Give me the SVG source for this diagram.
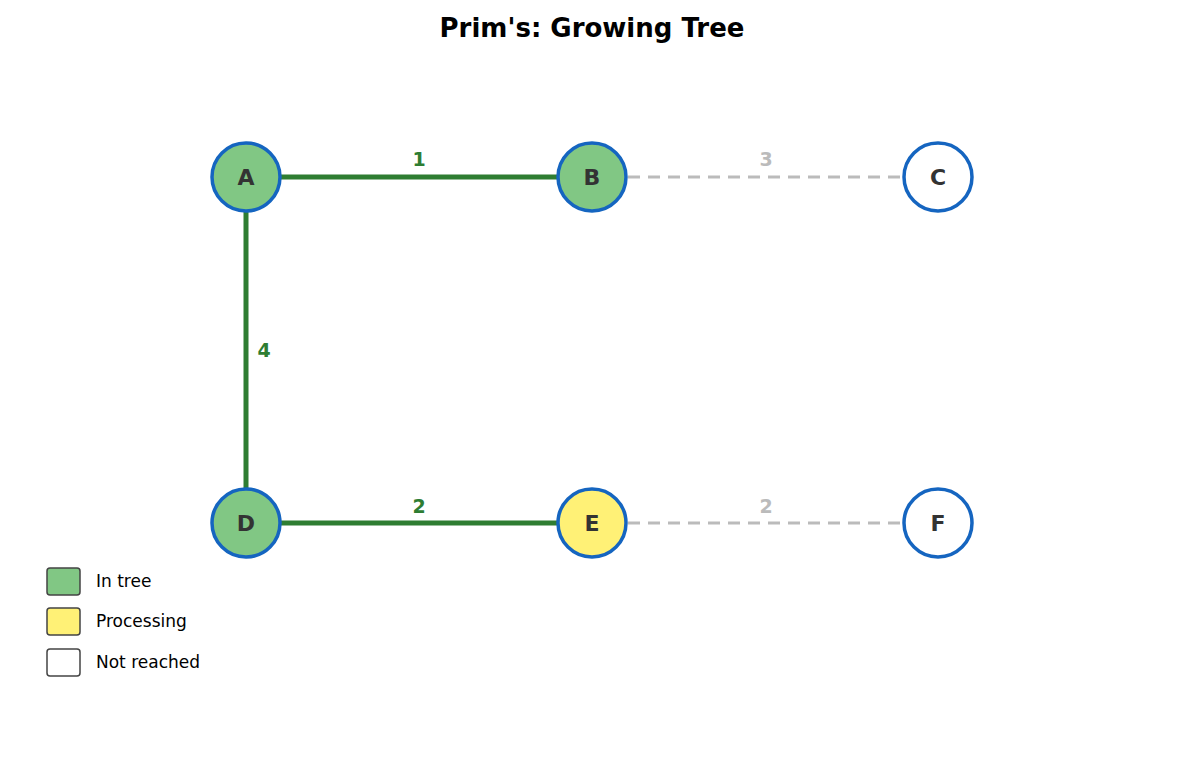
<svg xmlns="http://www.w3.org/2000/svg" width="1185" height="770" viewBox="0 0 1185 770">
<style>
text{font-family:"DejaVu Sans",sans-serif}
.n{stroke:#1565c0;stroke-width:3.5}
.nl{font-size:22px;font-weight:bold;fill:#333;text-anchor:middle;dominant-baseline:central}
.t{stroke:#2e7d32;stroke-width:5}
.d{stroke:#bbb;stroke-width:3;stroke-dasharray:12,8}
.el{font-size:19px;font-weight:bold;text-anchor:middle}
.lg{stroke:#444;stroke-width:1.5}
.lt{font-size:17px;fill:#000;dominant-baseline:central}
</style>
<rect width="1185" height="770" fill="#fff"/>
<text x="592" y="37" font-size="26" font-weight="bold" text-anchor="middle">Prim's: Growing Tree</text>
<g id="connectors">
<line class="t" x1="281" y1="177" x2="557" y2="177"/>
<line class="d" x1="628" y1="177" x2="903" y2="177"/>
<line class="t" x1="246" y1="212" x2="246" y2="488"/>
<line class="t" x1="281" y1="523" x2="557" y2="523"/>
<line class="d" x1="628" y1="523" x2="903" y2="523"/>
<text class="el" x="419" y="166" fill="#2e7d32">1</text>
<text class="el" x="766" y="166" fill="#bbb">3</text>
<text class="el" x="264" y="357" fill="#2e7d32">4</text>
<text class="el" x="419" y="513" fill="#2e7d32">2</text>
<text class="el" x="766" y="513" fill="#bbb">2</text>
</g>
<g id="A"><circle class="n" cx="246" cy="177" r="34" fill="#81c784"/><text class="nl" x="246" y="177">A</text></g>
<g id="B"><circle class="n" cx="592" cy="177" r="34" fill="#81c784"/><text class="nl" x="592" y="177">B</text></g>
<g id="C"><circle class="n" cx="938" cy="177" r="34" fill="#fff"/><text class="nl" x="938" y="177">C</text></g>
<g id="D"><circle class="n" cx="246" cy="523" r="34" fill="#81c784"/><text class="nl" x="246" y="523">D</text></g>
<g id="E"><circle class="n" cx="592" cy="523" r="34" fill="#fff176"/><text class="nl" x="592" y="523">E</text></g>
<g id="F"><circle class="n" cx="938" cy="523" r="34" fill="#fff"/><text class="nl" x="938" y="523">F</text></g>
<g id="legend">
<rect class="lg" x="47" y="568" width="33" height="27" rx="3" fill="#81c784"/><text class="lt" x="96" y="581">In tree</text>
<rect class="lg" x="47" y="608" width="33" height="27" rx="3" fill="#fff176"/><text class="lt" x="96" y="621">Processing</text>
<rect class="lg" x="47" y="649" width="33" height="27" rx="3" fill="#fff"/><text class="lt" x="96" y="662">Not reached</text>
</g>
</svg>
